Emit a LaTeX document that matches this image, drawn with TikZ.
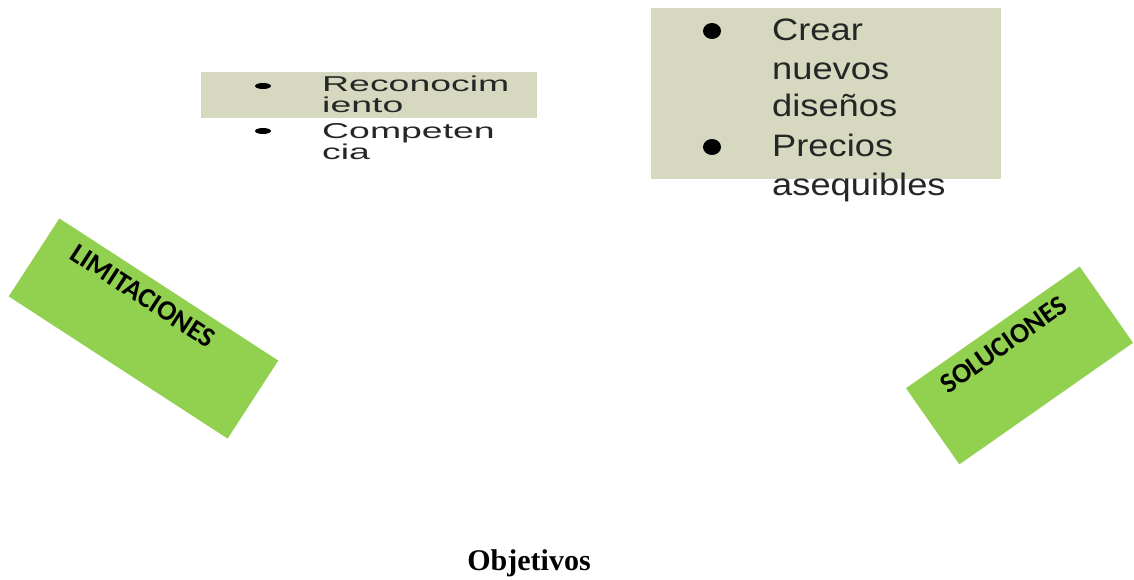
\documentclass[tikz,border=0pt]{standalone}
\usepackage{fontspec}
\usetikzlibrary{shapes.geometric}
\setmainfont{Liberation Serif}
\newfontfamily\arialf{Liberation Sans}
\newfontfamily\calibrib{Carlito}[UprightFont=*-Bold]
\definecolor{beige}{RGB}{215,216,192}
\definecolor{lgreen}{RGB}{146,208,80}
\tikzset{
  greenbox/.style={fill=lgreen, draw=none, inner sep=0pt, font=\calibrib\fontsize{28}{30}\selectfont},
  smalltxt/.style={font=\arialf\fontsize{21.5}{24}\selectfont, anchor=base west, inner sep=0pt, text=black!85},
  bigtxt/.style={font=\arialf\fontsize{31}{34}\selectfont, anchor=base west, inner sep=0pt, text=black!85},
  beigebox/.style={fill=beige, draw=none},
  smallbullet/.style={ellipse, fill=black, minimum width=16pt, minimum height=6pt, inner sep=0pt},
  bigbullet/.style={ellipse, fill=black, minimum width=18pt, minimum height=16pt, inner sep=0pt},
}
\begin{document}
\begin{tikzpicture}[x=1pt,y=-1pt]
\useasboundingbox (0,0) rectangle (1134,580);
% top-left list
\fill[beigebox] (201,72) rectangle (537,118);
\node[smallbullet] (b1) at (263,86) {};
\node[smallbullet] (b2) at (263,131) {};
\node[smalltxt] (t1) at (322,91.5) {\scalebox{1.74}[1]{Reconocim}};
\node[smalltxt] (t2) at (322,113) {\scalebox{1.74}[1]{iento}};
\node[smalltxt] (t3) at (322,139) {\scalebox{1.74}[1]{Competen}};
\node[smalltxt] (t4) at (322,160) {\scalebox{1.74}[1]{cia}};
% top-right list
\fill[beigebox] (651,8) rectangle (1001,179);
\node[bigbullet] (b3) at (712,31) {};
\node[bigbullet] (b4) at (712,147) {};
\node[bigtxt] (u1) at (772,41) {\scalebox{1.17}[1]{Crear}};
\node[bigtxt] (u2) at (772,80) {\scalebox{1.17}[1]{nuevos}};
\node[bigtxt] (u3) at (772,117) {\scalebox{1.17}[1]{diseños}};
\node[bigtxt] (u4) at (772,157) {\scalebox{1.17}[1]{Precios}};
\node[bigtxt] (u5) at (772,196) {\scalebox{1.17}[1]{asequibles}};
% green boxes (label placed toward the upper long edge)
\node[greenbox, minimum width=261pt, minimum height=93pt, rotate=-33] (lim) at (143.5,328.5)
  {\raisebox{18pt}[0pt][0pt]{\makebox[0pt]{\hspace*{-36pt}LIMITACIONES}}};
\node[greenbox, minimum width=212pt, minimum height=93pt, rotate=35] (sol) at (1019.5,365.5)
  {\raisebox{17pt}[0pt][0pt]{\makebox[0pt]{\hspace*{-2pt}SOLUCIONES}}};
% title
\node[font=\bfseries\fontsize{30}{34}\selectfont, anchor=base, inner sep=0pt] (obj) at (529,570) {Objetivos};
\end{tikzpicture}
\end{document}
